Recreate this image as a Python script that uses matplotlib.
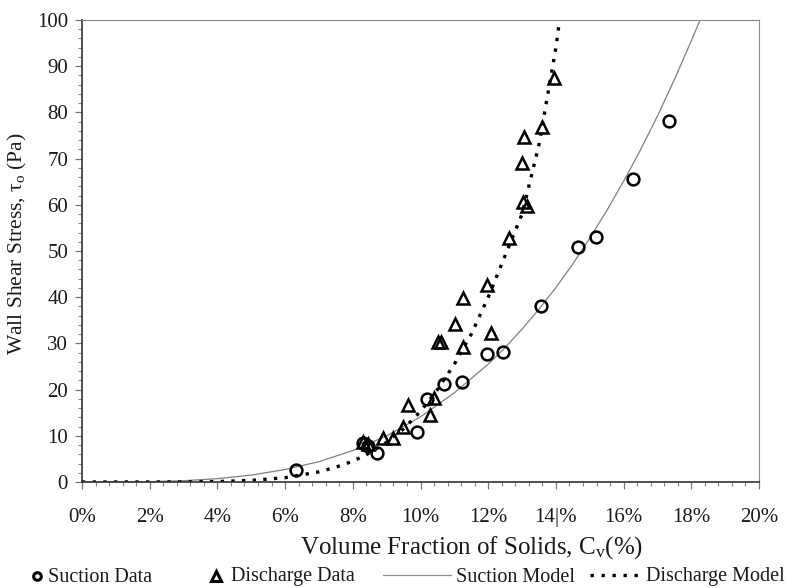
import matplotlib
matplotlib.use("Agg")
import matplotlib.pyplot as plt
from matplotlib.ticker import MultipleLocator, FixedLocator, FixedFormatter
from matplotlib.lines import Line2D

plt.rcParams['font.family'] = ['Liberation Serif', 'DejaVu Serif']
plt.rcParams['mathtext.fontset'] = 'custom'
plt.rcParams['mathtext.rm'] = 'Liberation Serif'
plt.rcParams['mathtext.it'] = 'Liberation Serif:italic'

# ---- data (volume fraction in %, wall shear stress in Pa) ----
suction_x = [6.32, 8.30, 8.45, 8.72, 9.89, 10.20, 10.69, 11.22, 11.95, 12.43,
             13.56, 14.66, 15.18, 16.29, 17.35]
suction_y = [2.6, 8.5, 7.7, 6.3, 10.9, 18.0, 21.2, 21.7, 27.7, 28.1,
             38.2, 50.9, 53.1, 65.5, 78.1]

discharge_x = [8.30, 8.45, 8.90, 9.18, 9.49, 9.64, 10.28, 10.40, 10.53, 10.62,
               11.02, 11.27, 11.27, 11.97, 12.07, 12.60, 13.01, 13.02, 13.06,
               13.14, 13.60, 13.94]
discharge_y = [8.6, 8.2, 9.5, 9.5, 11.8, 16.7, 14.4, 18.1, 30.2, 30.2,
               34.3, 39.9, 29.3, 42.6, 32.2, 52.9, 69.0, 60.7, 74.7,
               59.7, 76.9, 87.4]

suction_model_x = [0, 2, 3, 4, 5, 6, 7, 8, 9, 10, 11, 12, 12.5, 13, 13.5, 14,
                   14.5, 15, 15.5, 16, 16.5, 17, 17.5, 18, 18.26]
suction_model_y = [0, 0.08, 0.28, 0.72, 1.5, 2.7, 4.4, 6.8, 10.0, 14.1, 19.3,
                   25.5, 29.1, 33.1, 37.4, 42.1, 47.2, 52.8, 58.7, 65.1, 71.9,
                   79.2, 87.1, 95.5, 100]

discharge_model_x = [0, 3, 4, 5, 6, 7, 7.5, 8, 8.5, 9, 9.5, 10, 10.5, 11,
                     11.5, 12, 12.5, 13, 13.5, 14, 14.09]
discharge_model_y = [0, 0.02, 0.1, 0.35, 0.93, 2.2, 3.2, 4.5, 6.3, 8.6, 11.5,
                     15.3, 20.0, 25.5, 32.0, 40.0, 49.0, 58.0, 73.0, 94.0, 99.0]

x_ticks = [0, 2, 4, 6, 8, 10, 12, 14, 16, 18, 20]
x_tick_labels = ["0%", "2%", "4%", "6%", "8%", "10%", "12%", "14|%", "16%", "18%", "20%"]
y_ticks = [0, 10, 20, 30, 40, 50, 60, 70, 80, 90, 100]

legend_labels = ["Suction Data", "Discharge Data", "Suction Model", "Discharge Model"]

W, H = 786, 588
fig = plt.figure(figsize=(W / 100, H / 100), dpi=100)
ax = fig.add_axes([82 / W, 1 - 482 / H, 677 / W, 462 / H])

ax.plot(suction_model_x, suction_model_y, color='#808080', lw=0.9, zorder=2)
ax.plot(discharge_model_x, discharge_model_y, color='black', lw=2.4,
        linestyle=(0, (1.0, 2.2)), zorder=2)
ax.plot(suction_x, suction_y, linestyle='none', marker='o', markersize=8.5,
        markerfacecolor='none', markeredgecolor='black', markeredgewidth=1.8, zorder=3)
ax.plot(discharge_x, discharge_y, linestyle='none', marker='^', markersize=8.5,
        markerfacecolor='none', markeredgecolor='black', markeredgewidth=1.8, zorder=3)

ax.set_xlim(0, 20)
ax.set_ylim(0, 100)
ax.xaxis.set_major_locator(FixedLocator(x_ticks))
ax.xaxis.set_major_formatter(FixedFormatter(x_tick_labels))
ax.xaxis.set_minor_locator(MultipleLocator(0.4))
ax.yaxis.set_major_locator(FixedLocator(y_ticks))
ax.yaxis.set_minor_locator(MultipleLocator(2))

for side in ['left', 'bottom']:
    ax.spines[side].set_color('#333333')
    ax.spines[side].set_linewidth(1.2)
for side in ['top', 'right']:
    ax.spines[side].set_color('#888888')
    ax.spines[side].set_linewidth(0.8)

ax.tick_params(which='major', direction='out', length=5, width=0.9, color='#777777',
               labelsize=15, labelcolor='#1a1a1a')
ax.tick_params(which='minor', direction='out', length=3, width=0.8, color='#888888')
ax.tick_params(axis='x', which='major', pad=14)
ax.tick_params(axis='y', which='major', pad=5)

ax.set_xlabel("Volume Fraction of Solids, C$_\\mathrm{v}$(%)", fontsize=18,
              color='#1a1a1a')
ax.xaxis.set_label_coords(0.576, -0.112)
ax.set_ylabel("Wall Shear Stress, \u03c4$_\\mathrm{o}$ (Pa)", fontsize=15.5,
              color='#1a1a1a')
ax.yaxis.set_label_coords(-0.078, 0.515)

# ---- legend row below the axes ----
ly = 1 - 577 / H
fs = 14.5
fig.add_artist(Line2D([37 / W], [ly + 1 / H], transform=fig.transFigure, linestyle='none',
                      marker='o', markersize=5.5, markerfacecolor='none',
                      markeredgecolor='black', markeredgewidth=2.2))
fig.text(48 / W, ly, legend_labels[0], fontsize=fs, va='center', ha='left', color='#1a1a1a')
fig.add_artist(Line2D([216 / W], [ly + 1 / H], transform=fig.transFigure, linestyle='none',
                      marker='^', markersize=7, markerfacecolor='none',
                      markeredgecolor='black', markeredgewidth=2.2))
fig.text(231 / W, ly, legend_labels[1], fontsize=fs, va='center', ha='left', color='#1a1a1a')
fig.add_artist(Line2D([383 / W, 451 / W], [ly + 2 / H, ly + 2 / H], transform=fig.transFigure,
                      color='#909090', lw=0.9))
fig.text(456 / W, ly, legend_labels[2], fontsize=fs, va='center', ha='left', color='#1a1a1a')
fig.add_artist(Line2D([590 / W, 643 / W], [ly + 2 / H, ly + 2 / H], transform=fig.transFigure,
                      color='black', lw=2.4, linestyle=(0, (1.0, 2.3))))
fig.text(646 / W, ly, legend_labels[3], fontsize=fs, va='center', ha='left', color='#1a1a1a')

fig.savefig("out.png", dpi=100)
